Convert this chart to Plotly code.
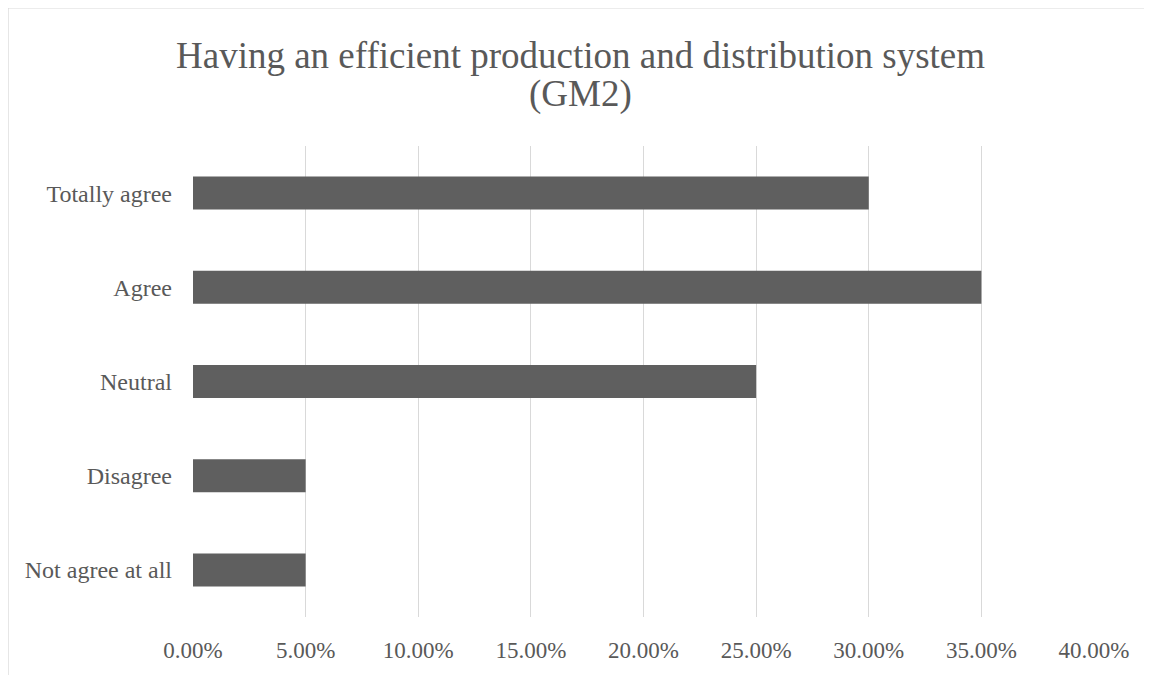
import plotly.graph_objects as go

categories = ["Not agree at all", "Disagree", "Neutral", "Agree", "Totally agree"]
values = [0.05, 0.05, 0.25, 0.35, 0.30]
tick_vals = [0, 0.05, 0.10, 0.15, 0.20, 0.25, 0.30, 0.35, 0.40]
tick_text = ["0.00%", "5.00%", "10.00%", "15.00%", "20.00%", "25.00%", "30.00%", "35.00%", "40.00%"]
title_lines = ["Having an efficient production and distribution system", "(GM2)"]

OFF = 8  # page body margin
W, H = 1152 - OFF, 675 - OFF
ml, mr, mt, mb = 193 - OFF, 1152 - 1094, 146 - OFF, 675 - 620
pw, ph = W - ml - mr, H - mt - mb


def py(y_screen):
    return (H - mb - (y_screen - OFF)) / ph


def px(x_screen):
    return (x_screen - OFF - ml) / pw


fig = go.Figure(go.Bar(
    x=values, y=categories, orientation="h",
    marker=dict(color="#5f5f5f", line=dict(width=0)),
))

title_y = [55, 94]
annotations = [
    dict(text=t, xref="paper", yref="paper", x=px(580.5), y=py(yy),
         xanchor="center", yanchor="middle", showarrow=False,
         font=dict(size=37, color="#595959"))
    for t, yy in zip(title_lines, title_y)
]

fig.update_layout(
    width=W, height=H,
    margin=dict(l=ml, r=mr, t=mt, b=mb),
    paper_bgcolor="white", plot_bgcolor="white",
    font=dict(family="Liberation Serif, Times New Roman, serif", color="#595959", size=24),
    bargap=0.65,
    showlegend=False,
    annotations=annotations,
    xaxis=dict(range=[0, 0.40], tickvals=tick_vals, ticktext=tick_text,
               tickfont=dict(size=23),
               showgrid=True, gridcolor="#d9d9d9", gridwidth=1.3,
               zeroline=False, showline=False, ticks="", ticklabelstandoff=17),
    yaxis=dict(showgrid=False, zeroline=False, showline=False, ticks="",
               tickfont=dict(size=24), ticklabelstandoff=20),
    shapes=[dict(type="rect", xref="paper", yref="paper",
                 x0=px(8), x1=px(1172),
                 y0=py(695), y1=py(7),
                 line=dict(color="#d9d9d9", width=1.3), fillcolor="rgba(0,0,0,0)", layer="below")],
)

fig.write_html("out.html")
